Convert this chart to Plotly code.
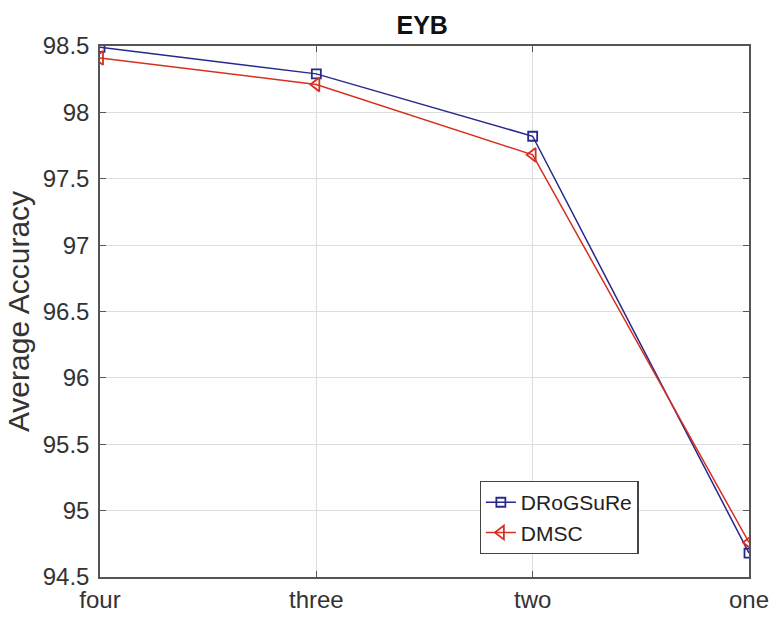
import plotly.graph_objects as go

categories = ["four", "three", "two", "one"]
drogsure = [98.49, 98.29, 97.82, 94.68]
dmsc = [98.41, 98.21, 97.68, 94.76]
yticks = [94.5, 95, 95.5, 96, 96.5, 97, 97.5, 98, 98.5]

font_family = "Liberation Sans, Arial, sans-serif"

fig = go.Figure()
fig.add_trace(go.Scatter(
    x=categories, y=drogsure, name="DRoGSuRe", mode="lines+markers",
    line=dict(color="#27288a", width=1.5),
    marker=dict(symbol="square-open", size=9, color="#27288a", line=dict(width=1.8)),
))
fig.add_trace(go.Scatter(
    x=categories, y=dmsc, name="DMSC", mode="lines+markers",
    line=dict(color="#d6301e", width=1.5),
    marker=dict(symbol="triangle-left-open", size=12, color="#d6301e", line=dict(width=1.8)),
))

fig.update_layout(
    width=769, height=617,
    margin=dict(l=100, r=20, t=46, b=40),
    paper_bgcolor="white", plot_bgcolor="white",
    font=dict(family=font_family, color="#333333", size=22),
    title=dict(text="<b>EYB</b>", x=0.549, xanchor="center", y=0.959, yanchor="middle",
               font=dict(size=25, color="#111111")),
    showlegend=True,
    legend=dict(x=0.585, y=0.181, xanchor="left", yanchor="top",
                bgcolor="white", bordercolor="#444444", borderwidth=1.2,
                font=dict(size=21, color="#222222"), tracegroupgap=0),
    xaxis=dict(
        type="category", range=[0, 3], showgrid=True, gridcolor="#dddddd", gridwidth=1,
        showline=True, linecolor="#555555", linewidth=1.5, mirror="ticks",
        ticks="inside", ticklen=6, tickcolor="#555555", zeroline=False,
        tickfont=dict(size=24, color="#333333"), automargin=False,
    ),
    yaxis=dict(
        range=[94.5, 98.5], tickvals=yticks, ticktext=[f"{v:g}" for v in yticks],
        showgrid=True, gridcolor="#dddddd", gridwidth=1,
        showline=True, linecolor="#555555", linewidth=1.5, mirror="ticks",
        ticks="inside", ticklen=6, tickcolor="#555555", zeroline=False,
        tickfont=dict(size=24, color="#333333"), ticklabelstandoff=4,
        title=dict(text="Average Accuracy", font=dict(size=30, color="#333333"), standoff=4),
        automargin=False,
    ),
)

fig.write_html("out.html")
